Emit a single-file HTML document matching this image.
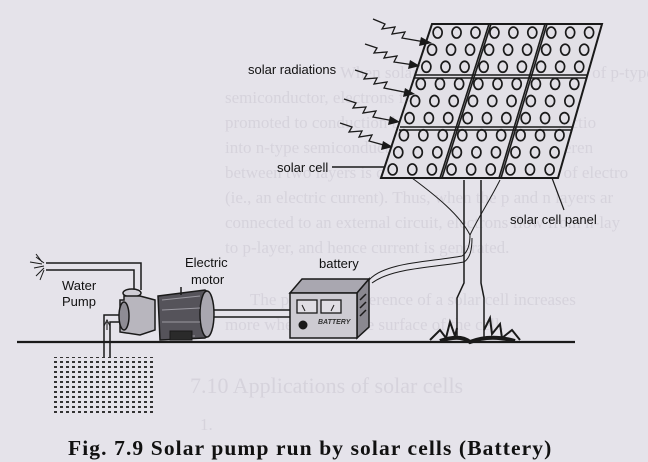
<!DOCTYPE html>
<html><head><meta charset="utf-8"><style>
html,body{margin:0;padding:0;background:#e5e3ea;}
svg{display:block}
</style></head><body>
<svg width="648" height="462" viewBox="0 0 648 462" xmlns="http://www.w3.org/2000/svg">
<rect width="648" height="462" fill="#e5e3ea"/>
<g font-family="Liberation Serif, serif" font-size="17" fill="#d6d3dc">
<text x="340" y="78">When solar rays fall on the top layer of p-type</text>
<text x="225" y="103">semiconductor, electrons from the valence band g</text>
<text x="225" y="128">promoted to conduction band and cross the p-n junctio</text>
<text x="225" y="153">into n-type semiconductor. There by potential differen</text>
<text x="225" y="178">between two layers is created, which causes flow of electro</text>
<text x="225" y="203">(ie., an electric current). Thus, when the p and n layers ar</text>
<text x="225" y="228">connected to an external circuit, electrons flow from n-lay</text>
<text x="225" y="253">to p-layer, and hence current is generated.</text>
<text x="250" y="305">The potential difference of a solar cell increases</text>
<text x="225" y="330">more when fall on the surface of the cell.</text>
<text x="190" y="393" font-size="22">7.10  Applications of solar cells</text>
<text x="200" y="430">1.</text>
</g>
<g stroke="#1a1a1a" fill="none">
<polygon points="432,24 602,24 558,178 381,178" fill="#e2e0e6" stroke-width="2"/>
<g stroke-width="1.6">
<line x1="489" y1="24" x2="440" y2="178"/><line x1="491" y1="24" x2="442" y2="178"/>
<line x1="545" y1="24" x2="499" y2="178"/><line x1="547" y1="24" x2="501" y2="178"/>
<line x1="415" y1="75" x2="588" y2="75"/><line x1="414" y1="78" x2="587" y2="78"/>
<line x1="400" y1="127" x2="573" y2="127"/><line x1="399" y1="130" x2="572" y2="130"/>
</g>
<g id="cells" stroke-width="1.7"></g>
<path d="M464,180 L464,283 L457,298 L457,337 M481,180 L481,283 L484,298 L484,337" stroke-width="1.5"/>
<path d="M412,178 C435,195 460,215 470,235" stroke-width="1"/>
<path d="M500,180 C490,200 478,218 470,235" stroke-width="1"/>
<path d="M470,235 C470,245 468,252 462,256 C430,262 385,262 369,280" stroke-width="1"/>
<path d="M472,238 C472,250 470,258 464,262 C430,268 392,268 372,283" stroke-width="1"/>
<line x1="552" y1="178" x2="564" y2="210" stroke-width="1.2"/>
<line x1="332" y1="167" x2="384" y2="167" stroke-width="1.5"/>
<line x1="17" y1="342" x2="575" y2="342" stroke-width="2.2"/>
<path d="M430,340 L440,330 L446,338 L450,322 L455,336 L457,328 M484,330 L490,318 L492,334 L500,324 L502,338 L512,330 L520,340" stroke-width="2"/>
<path d="M440,341 Q460,334 470,342 Q490,334 515,341" stroke-width="4"/>
<g stroke-width="1.3">
<polyline points="373,19 385,24 382,29 395,27 392,34 405,32 402,38 425,42"/>
<polyline points="365,44 377,48 374,53 387,52 384,58 397,56 394,62 414,65"/>
<polyline points="355,70 367,74 364,79 377,78 374,84 387,82 384,88 409,93"/>
<polyline points="344,99 356,103 353,108 366,107 363,113 376,111 373,117 394,121"/>
<polyline points="340,123 352,127 349,132 362,131 359,137 372,135 369,141 387,146"/>
</g>
<g fill="#1a1a1a" stroke="none">
<polygon points="432,43 421,37 419,46"/>
<polygon points="420,66 410,60 408,69"/>
<polygon points="415,94 405,88 403,97"/>
<polygon points="400,122 390,116 388,125"/>
<polygon points="393,147 383,141 381,150"/>
</g>
<path d="M46,263 L141,263 L141,290 M46,270 L134,270 L134,292" stroke-width="1.5"/>
<path d="M104,357 L104,315 L122,315 M110,357 L110,322 L122,322" stroke-width="1.5"/>
<path d="M107,330 L107,322 M104,326 L107,320 L110,326" stroke-width="1"/>
<path d="M44,263 l-8,-6 M44,266 l-10,2 M44,268 l-8,8 M42,264 l-12,-2 M44,270 l-4,10 M42,262 l-6,-8" stroke-width="1"/>
<ellipse cx="132" cy="293" rx="9" ry="4" fill="#cfcdd5" stroke-width="1.5"/>
<path d="M124,296 L124,300 L120,300 L120,332 L140,335 L155,330 L155,300 L140,296 Z" fill="#b8b6be" stroke-width="1.5"/>
<ellipse cx="124" cy="316" rx="5" ry="14" fill="#8e8c94" stroke-width="1.5"/>
<path d="M158,296 L205,290 C216,295 216,333 205,338 L160,340 Z" fill="#55535a" stroke-width="1.5"/>
<ellipse cx="207" cy="314" rx="7" ry="23" fill="#a9a7b0" stroke-width="1.5"/>
<path d="M162,300 L200,296 M162,310 L200,308 M162,322 L200,322 M175,336 L195,336" stroke="#9a98a0"/>
<rect x="170" y="331" width="22" height="9" fill="#2a2a2a"/>
<line x1="181" y1="287" x2="181" y2="295" stroke-width="1.5"/>
<path d="M214,310 L290,310 M214,317 L290,317" stroke-width="1.5"/>
<polygon points="290,293 302,279 369,279 357,293" fill="#a9a7b0" stroke-width="1.5"/>
<polygon points="357,293 369,279 369,327 357,338" fill="#8a8890" stroke-width="1.5"/>
<rect x="290" y="293" width="67" height="45" fill="#cdcbd2" stroke-width="1.5"/>
<rect x="297" y="300" width="20" height="13" fill="#e0dee4" stroke-width="1.3"/>
<rect x="321" y="300" width="20" height="13" fill="#e0dee4" stroke-width="1.3"/>
<line x1="305" y1="311" x2="302" y2="305"/><line x1="331" y1="311" x2="334" y2="305"/>
<circle cx="303" cy="325" r="4" fill="#1a1a1a"/>
<path d="M360,300 l6,-6 M360,308 l6,-6 M360,316 l6,-6" stroke-width="1.5"/>
</g>
<text x="318" y="324" font-family="Liberation Sans, sans-serif" font-size="7" font-weight="bold" font-style="italic" fill="#333">BATTERY</text>
<defs>
<pattern id="dots" width="6" height="5" patternUnits="userSpaceOnUse">
<rect x="0" y="1" width="3" height="2" fill="#333"/>
</pattern>
</defs>
<rect x="52" y="357" width="101" height="57" fill="url(#dots)"/>
<g font-family="Liberation Sans, sans-serif" font-size="13" fill="#111">
<text x="248" y="74">solar radiations</text>
<text x="277" y="172">solar cell</text>
<text x="510" y="224">solar cell panel</text>
<text x="185" y="267">Electric</text>
<text x="191" y="284">motor</text>
<text x="319" y="268">battery</text>
<text x="62" y="290">Water</text>
<text x="62" y="306">Pump</text>
</g>
<text x="68" y="455" font-family="Liberation Serif, serif" font-size="21.5" font-weight="bold" fill="#111" letter-spacing="1.1">Fig. 7.9 Solar pump run by solar cells (Battery)</text>
</svg>
<script>
(function(){
var g=document.getElementById('cells');var ns='http://www.w3.org/2000/svg';
function X(u,y){var l=432-(y-24)*51/154;var r=602-(y-24)*44/154;return l+(r-l)*u;}
for(var row=0;row<9;row++){var y=24+(row+0.5)*154/9;for(var col=0;col<9;col++){var u=(col+0.5)/9;
var c=document.createElementNS(ns,'ellipse');c.setAttribute('cx',X(u,y)-1);c.setAttribute('cy',y);c.setAttribute('rx',4.5);c.setAttribute('ry',5.5);g.appendChild(c);}}
})();
</script>
</body></html>
